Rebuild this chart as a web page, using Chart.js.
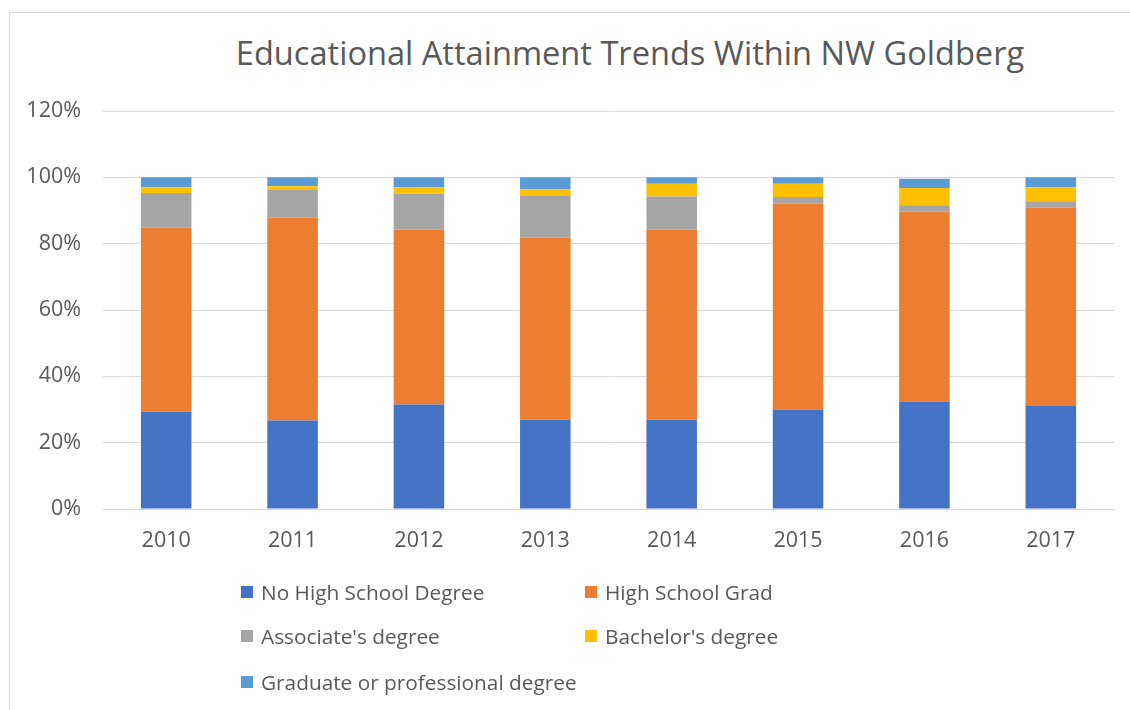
<!DOCTYPE html>
<html>
<head>
<meta charset="utf-8">
<script src="https://cdn.jsdelivr.net/npm/chart.js@4.4.1/dist/chart.umd.min.js"></script>
<style>
  html, body { margin: 0; padding: 0; background: #fff; }
  body { width: 1130px; height: 710px; position: relative; overflow: hidden; font-family: "Open Sans", sans-serif; color: #595959; }
  #frame { position: absolute; left: 9px; top: 12px; width: 1140px; height: 720px; border-left: 1px solid #D9D9D9; border-top: 1px solid #D9D9D9; }
  #title { position: absolute; left: 0; top: 30px; width: 1260px; text-align: center; font-size: 32.6px; color: #595959; white-space: nowrap; }
  #wrap { position: absolute; left: 0; top: 0; width: 1130px; height: 570px; }
  #legend { position: absolute; left: 0; top: 0; width: 1130px; height: 710px; pointer-events: none; }
  .li { position: absolute; display: flex; align-items: center; font-size: 20.8px; color: #595959; white-space: nowrap; }
  .sw { width: 12px; height: 12px; margin-right: 8px; }
</style>
</head>
<body>
<div id="frame"></div>
<div id="title">Educational Attainment Trends Within NW Goldberg</div>
<div id="wrap"><canvas id="c" width="1130" height="570" style="width:1130px;height:570px"></canvas></div>
<div id="legend"></div>
<script>
const years = ["2010","2011","2012","2013","2014","2015","2016","2017"];
const noHighSchool = [29.3, 26.7, 31.5, 26.9, 26.9, 29.9, 32.3, 31.2];
const highSchoolGrad = [55.6, 61.2, 52.8, 54.9, 57.4, 62.2, 57.4, 59.6];
const associates = [10.4, 8.3, 10.8, 12.6, 9.9, 2.0, 1.9, 2.0];
const bachelors = [1.7, 1.1, 1.9, 2.0, 3.9, 4.0, 5.2, 4.2];
const graduate = [3.0, 2.7, 3.0, 3.6, 1.9, 1.9, 2.8, 3.0];
const seriesNames = ["No High School Degree", "High School Grad", "Associate's degree", "Bachelor's degree", "Graduate or professional degree"];
const seriesColors = ["#4472C4", "#ED7D31", "#A5A5A5", "#FFC000", "#5B9BD5"];
const yTicks = [0, 20, 40, 60, 80, 100, 120];

const seriesData = [noHighSchool, highSchoolGrad, associates, bachelors, graduate];
const FONT = "'Open Sans', sans-serif";

new Chart(document.getElementById('c'), {
  type: 'bar',
  data: {
    labels: years,
    datasets: seriesNames.map((n, i) => ({
      label: n,
      data: seriesData[i],
      backgroundColor: seriesColors[i],
      borderWidth: 0,
      categoryPercentage: 1,
      barPercentage: 0.4
    }))
  },
  options: {
    responsive: false,
    animation: false,
    devicePixelRatio: 1,
    layout: { padding: { left: 0, right: 16, top: 111, bottom: 0 } },
    plugins: { legend: { display: false }, title: { display: false }, tooltip: { enabled: false } },
    scales: {
      x: {
        stacked: true,
        grid: { display: false, drawTicks: false },
        border: { color: '#D9D9D9', width: 1 },
        ticks: { color: '#595959', font: { family: FONT, size: 21.5 }, padding: 19 },
        afterFit: s => { s.height = 61; }
      },
      y: {
        stacked: true,
        min: 0, max: 120,
        afterBuildTicks: s => { s.ticks = yTicks.map(v => ({ value: v })); },
        grid: { color: '#D9D9D9', drawTicks: false },
        border: { display: false },
        ticks: { color: '#595959', font: { family: FONT, size: 21.5 }, padding: 22, callback: v => v + '%' },
        afterFit: s => { s.width = 103; }
      }
    }
  }
});

const legendPos = [[241, 593], [585, 593], [241, 637], [585, 637], [241, 683]];
const lg = document.getElementById('legend');
seriesNames.forEach((n, i) => {
  const d = document.createElement('div');
  d.className = 'li';
  d.style.left = legendPos[i][0] + 'px';
  d.style.top = (legendPos[i][1] - 15) + 'px';
  d.innerHTML = '<span class="sw" style="background:' + seriesColors[i] + '"></span><span>' + n + '</span>';
  lg.appendChild(d);
});
</script>
</body>
</html>
